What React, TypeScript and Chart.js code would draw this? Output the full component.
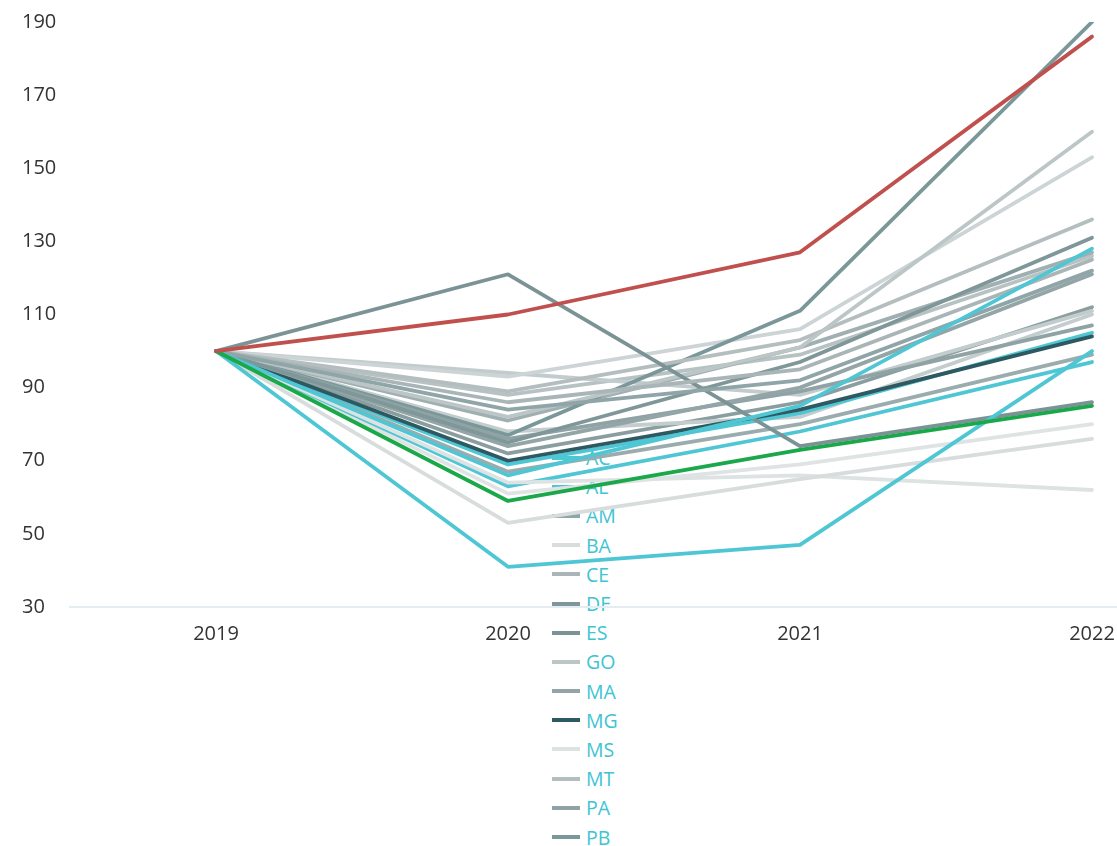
import React, { useEffect, useRef } from "react";
import { Chart, registerables } from "chart.js";

Chart.register(...registerables);

const years = [2019, 2020, 2021, 2022];
const yTicks = [30, 50, 70, 90, 110, 130, 150, 170, 190];

const states = [
  "AC", "AL", "AM", "BA", "CE", "DF", "ES", "GO", "MA", "MG", "MS", "MT", "PA",
  "PB", "PE", "PI", "PR", "RJ", "RN", "RO", "RR", "RS", "SC", "SE", "SP", "TO",
];

const index2019 = [
  100, 100, 100, 100, 100, 100, 100, 100, 100, 100, 100, 100, 100,
  100, 100, 100, 100, 100, 100, 100, 100, 100, 100, 100, 100, 100,
];
const index2020 = [
  41, 66, 84, 53, 86, 75, 121, 82, 74, 70, 64, 89, 76,
  77, 69, 93, 94, 63, 61, 67, 110, 81, 78, 72, 59, 88,
];
const index2021 = [
  47, 85, 92, 65, 95, 97, 74, 101, 90, 84, 66, 103, 89,
  111, 83, 106, 88, 78, 69, 80, 127, 101, 82, 86, 73, 99,
];
const index2022 = [
  100, 128, 122, 76, 125, 131, 86, 160, 121, 104, 62, 136, 107,
  190, 105, 153, 111, 97, 80, 99, 186, 127, 110, 112, 85, 126,
];

const lineColors = [
  "#4ec6d4", "#4ec6d4", "#8fa5a8", "#d8dcdc", "#a9b5b6", "#7f9799", "#7c9396",
  "#bcc6c7", "#93a5a7", "#2f5961", "#dde2e2", "#b4bebf", "#8fa3a5",
  "#7a9799", "#4ec6d4", "#ccd4d5", "#c3cccd", "#4ec6d4", "#dfe3e3", "#9aacae",
  "#c0504d", "#a0b0b2", "#c4cdce", "#8a9ea0", "#1aa84a", "#b8c2c3",
];

const topStates = ["RR", "SP"];

const FONT = "'Open Sans', 'Noto Sans', sans-serif";

export default function App() {
  const canvasRef = useRef<HTMLCanvasElement | null>(null);

  useEffect(() => {
    const canvas = canvasRef.current;
    if (!canvas) return;
    const datasets = states.map((name, i) => ({
      label: name,
      data: [index2019[i], index2020[i], index2021[i], index2022[i]].map((v, k) => ({
        x: years[k],
        y: v,
      })),
      borderColor: lineColors[i],
      backgroundColor: lineColors[i],
      borderWidth: 3.8,
      pointRadius: 0,
      tension: 0,
      fill: false,
      order: topStates.includes(name) ? -1 : 0,
    }));

    const chart = new Chart(canvas, {
      type: "line",
      data: { datasets },
      options: {
        animation: false,
        responsive: false,
        maintainAspectRatio: false,
        layout: { padding: { left: 22, top: 22, right: 0, bottom: 185 } },
        plugins: {
          legend: { display: false },
          tooltip: { enabled: false },
        },
        elements: {
          line: { borderCapStyle: "round", borderJoinStyle: "round" },
        },
        scales: {
          x: {
            type: "linear",
            min: 2018.5,
            max: 2022.0856,
            afterBuildTicks: (s: any) => {
              s.ticks = years.map((v) => ({ value: v }));
            },
            afterFit: (s: any) => {
              s.paddingRight = 0;
              s.paddingLeft = 0;
            },
            grid: { display: false, drawTicks: false },
            border: { display: true, color: "#e4edf1", width: 2 },
            ticks: {
              padding: 15,
              color: "#333333",
              font: { family: FONT, size: 20 },
              maxRotation: 0,
              autoSkip: false,
              callback: (v: any) => String(v),
            },
          },
          y: {
            type: "linear",
            min: 30,
            max: 190,
            afterBuildTicks: (s: any) => {
              s.ticks = yTicks.map((v) => ({ value: v }));
            },
            afterFit: (s: any) => {
              s.width = 48;
            },
            grid: { display: false, drawTicks: false },
            border: { display: false },
            ticks: {
              crossAlign: "far",
              padding: 0,
              color: "#333333",
              font: { family: FONT, size: 20 },
              callback: (v: any) => String(v),
            },
          },
        },
      },
    } as any);
    return () => chart.destroy();
  }, []);

  return (
    <div
      style={{
        position: "fixed",
        left: 0,
        top: 0,
        width: 1117,
        height: 846,
        overflow: "hidden",
        background: "#ffffff",
      }}
    >
      <div
        style={{
          position: "absolute",
          left: 552,
          top: 443,
          zIndex: 0,
          fontFamily: FONT,
          fontSize: 19.5,
          color: "#40c4d3",
        }}
      >
        {states.map((name, i) => (
          <div
            key={name}
            style={{ height: 29.2, display: "flex", alignItems: "center" }}
          >
            <span
              style={{
                display: "inline-block",
                width: 28,
                height: 4,
                background: lineColors[i],
                marginRight: 6,
              }}
            />
            <span>{name}</span>
          </div>
        ))}
      </div>
      <canvas
        ref={canvasRef}
        width={1117}
        height={846}
        style={{ position: "absolute", left: 0, top: 0, zIndex: 1 }}
      />
    </div>
  );
}
